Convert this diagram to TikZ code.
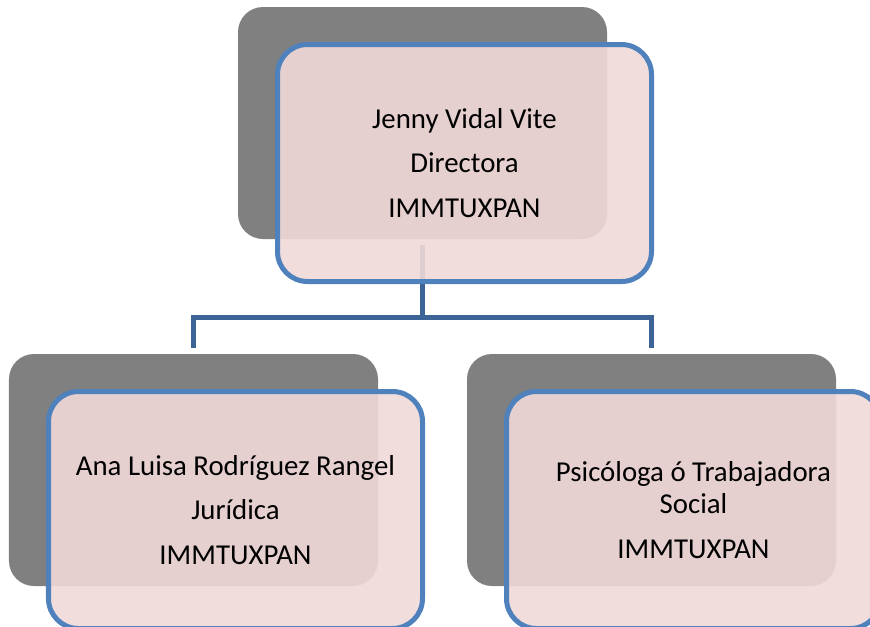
\documentclass[tikz,border=0pt]{standalone}
\usepackage{fontspec}
\setmainfont{Carlito}
\usepackage{tikz}
\usetikzlibrary{positioning,backgrounds}
\definecolor{SHADOW_COLOR}{HTML}{808080}
\definecolor{CARD_COLOR}{RGB}{240,217,216}
\definecolor{EDGE_COLOR}{HTML}{4F81BD}
\definecolor{LINK_COLOR}{HTML}{3C6496}
\tikzstyle{layer} = [rectangle, inner sep=0pt]
\tikzstyle{shadow_box} = [layer, fill=SHADOW_COLOR, rounded corners=0.5cm, minimum width=7.38cm, minimum height=4.64cm]
\tikzstyle{card_box} = [layer, fill=CARD_COLOR, fill opacity=0.9, text opacity=1, draw=EDGE_COLOR, line width=0.1cm, rounded corners=0.6cm, minimum width=7.48cm, minimum height=4.74cm, align=center, font=\fontsize{16.4}{18.5}\selectfont]
\tikzstyle{link} = [draw=LINK_COLOR, line width=0.1cm]

\begin{document}
\begin{tikzpicture}
      \useasboundingbox (0,0) rectangle (17.4,-12.52);

      % director
      \node[shadow_box] (TOP) at (8.45,-2.46) {};
      \node[card_box, below right= 0.8cm and 0.84cm of TOP.center, anchor=center] (TOPc)
            {Jenny Vidal Vite\\[7pt] Directora\\[7pt] IMMTUXPAN};

      % legal
      \node[shadow_box, below left= 6.94cm and 4.58cm of TOP.center, anchor=center] (LEFT) {};
      \node[card_box, below right= 0.8cm and 0.84cm of LEFT.center, anchor=center] (LEFTc)
            {Ana Luisa Rodríguez Rangel\\[7pt] Jurídica\\[7pt] IMMTUXPAN};

      % social work
      \node[shadow_box, below right= 6.94cm and 4.58cm of TOP.center, anchor=center] (RIGHT) {};
      \node[card_box, below right= 0.8cm and 0.84cm of RIGHT.center, anchor=center] (RIGHTc)
            {Psicóloga ó Trabajadora\\ Social\\[7pt] IMMTUXPAN};

      \begin{scope}[on background layer]
        \draw[link] ([yshift=-1.2mm]TOP.south) -- ++(0,-1.44) coordinate (bus)
              -| ([yshift=1.2mm]LEFT.north);
        \draw[link] (bus) -| ([yshift=1.2mm]RIGHT.north);
      \end{scope}
\end{tikzpicture}
\end{document}
